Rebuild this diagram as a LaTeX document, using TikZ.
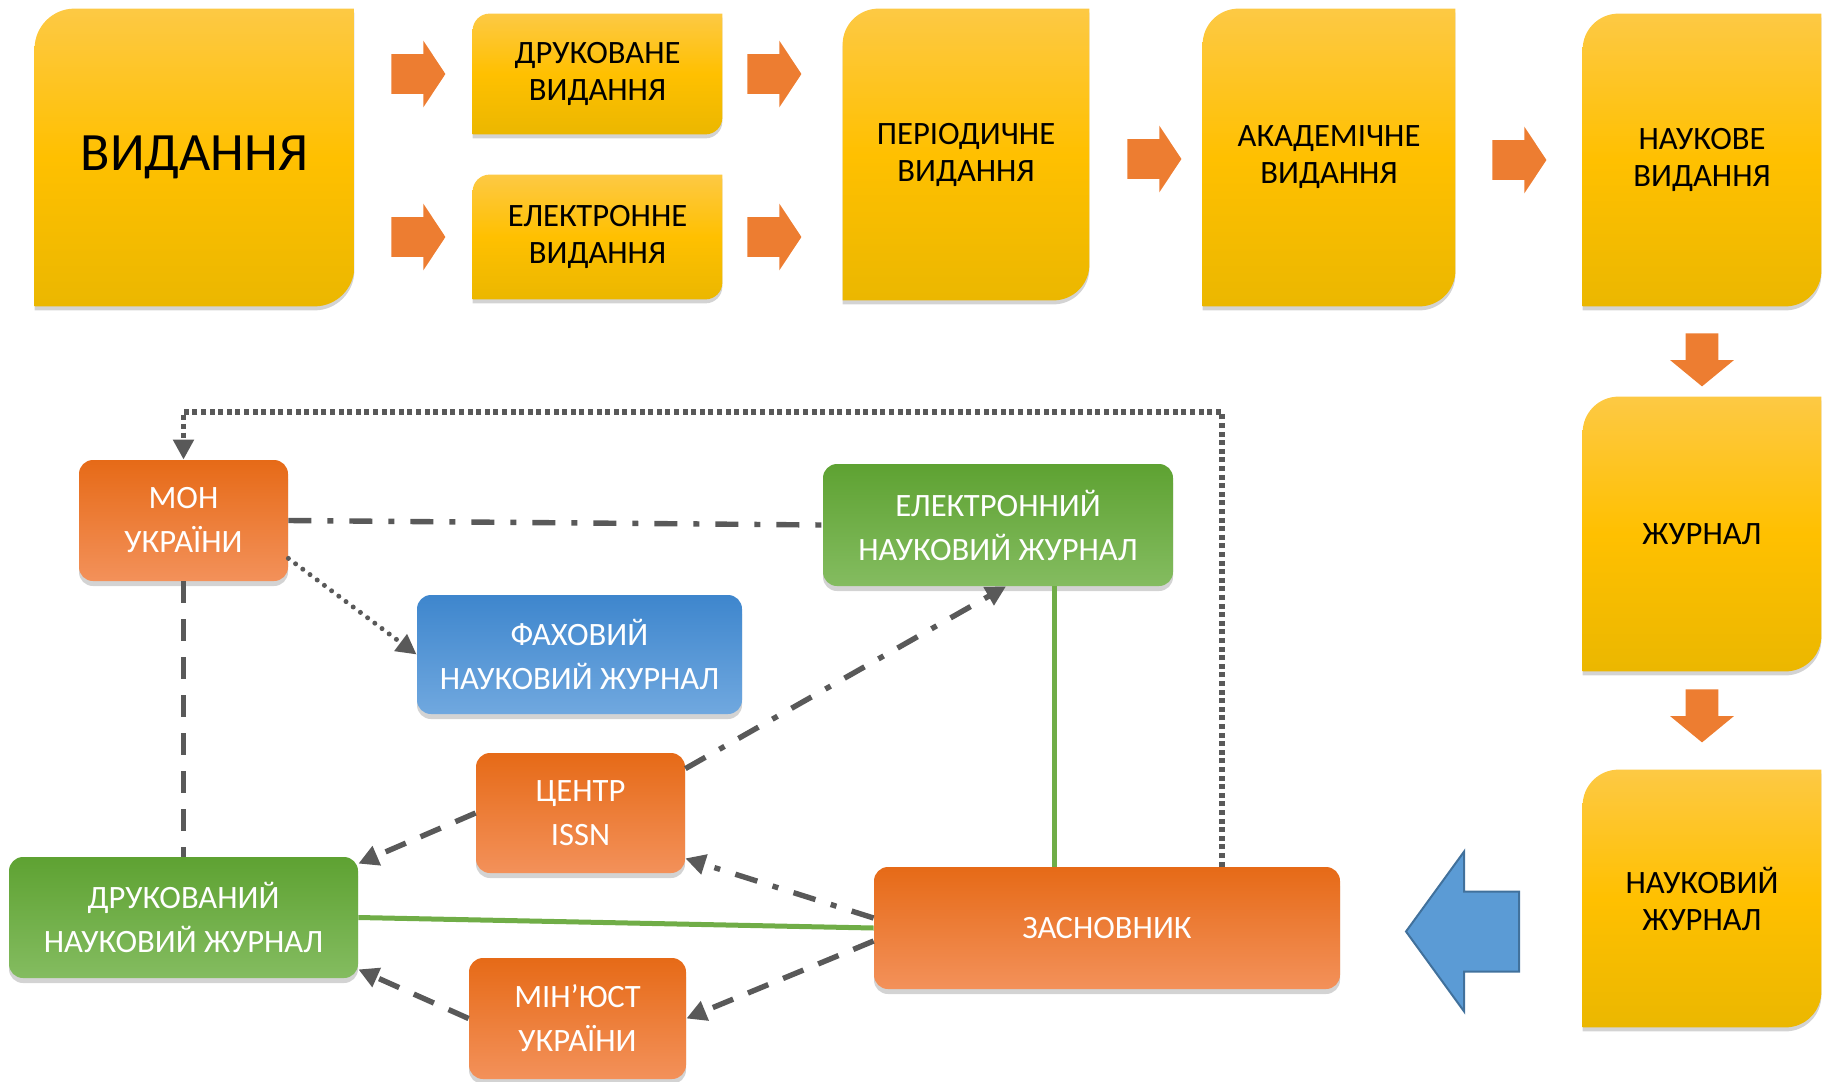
\documentclass[tikz,border=0pt]{standalone}
\usepackage{fontspec}
\setmainfont{Carlito}
\usetikzlibrary{arrows.meta,shapes.arrows,shadows,backgrounds,calc}

\definecolor{yelTop}{HTML}{FDC944}
\definecolor{yelMid}{HTML}{FFC000}
\definecolor{yelBot}{HTML}{EBB700}
\definecolor{arrOr}{HTML}{ED7D31}
\definecolor{orTop}{HTML}{E66A17}
\definecolor{orBot}{HTML}{F3915A}
\definecolor{grTop}{HTML}{5EA232}
\definecolor{grBot}{HTML}{84BC60}
\definecolor{blTop}{HTML}{3E86CD}
\definecolor{blBot}{HTML}{70A8DF}
\definecolor{lineGray}{HTML}{595959}
\definecolor{lineGreen}{HTML}{70AD47}
\definecolor{bigBlue}{HTML}{5B9BD5}
\definecolor{bigBlueEdge}{HTML}{41719C}

\begin{document}
\begin{tikzpicture}[x=0.5pt,y=-0.5pt,
   yellow box/.style={inner sep=0pt,align=center,font=\fontsize{16.3}{18.5}\selectfont},
   yellow shape/.style={top color=yelTop,bottom color=yelBot,middle color=yelMid,
      drop shadow={shadow xshift=0pt,shadow yshift=-2pt,opacity=.35}},
   flow arrow/.style={single arrow,fill=arrOr,anchor=tail,inner xsep=0pt,inner ysep=9.75pt,minimum width=33pt,
      minimum height=27pt,single arrow head extend=6.75pt,single arrow tip angle=113},
   down arrow/.style={flow arrow,shape border rotate=270,inner xsep=8pt,inner ysep=0pt,minimum width=31.5pt,
      minimum height=26.5pt,single arrow head extend=7.75pt,single arrow tip angle=101},
   org box/.style={rounded corners=7pt,top color=orTop,bottom color=orBot,text=white,align=center,
      font=\fontsize{16.3}{22}\selectfont,inner sep=0pt,
      drop shadow={shadow xshift=0pt,shadow yshift=-2.5pt,opacity=.35}},
   green box/.style={org box,top color=grTop,bottom color=grBot},
   blue box/.style={org box,top color=blTop,bottom color=blBot},
   dash line/.style={draw=lineGray,line width=2.7pt,dash pattern=on 11pt off 8pt},
   dash dot line/.style={draw=lineGray,line width=2.7pt,dash pattern=on 11.5pt off 8pt on 3pt off 8pt},
   dot line/.style={draw=lineGray,line width=2.5pt,line cap=round,dash pattern=on 0pt off 4.5pt},
   square dot line/.style={draw=lineGray,line width=2.6pt,dash pattern=on 2.5pt off 1.8pt},
   gray tip/.style={-{Triangle[length=10pt,width=10pt,fill=lineGray]}},
   green line/.style={draw=lineGreen,line width=2.5pt}]

  \useasboundingbox (0,0) rectangle (1830,1081);

  % top row
  \node[yellow box,minimum width=159.5pt,minimum height=148.5pt,font=\fontsize{27}{30}\selectfont] (vyd) at (194.5,157.5) {ВИДАННЯ};
  \node[yellow box,minimum width=124.5pt,minimum height=60pt] (drv) at (597.5,74) {ДРУКОВАНЕ\\ВИДАННЯ};
  \node[yellow box,minimum width=124.5pt,minimum height=62pt] (elv) at (597.5,237) {ЕЛЕКТРОННЕ\\ВИДАННЯ};
  \node[yellow box,minimum width=123pt,minimum height=145.5pt] (per) at (966,154.5) {ПЕРІОДИЧНЕ\\ВИДАННЯ};
  \node[yellow box,minimum width=126pt,minimum height=148.5pt] (akad) at (1329,157.5) {АКАДЕМІЧНЕ\\ВИДАННЯ};
  \node[yellow box,minimum width=119pt,minimum height=146pt] (nauk) at (1702,160) {НАУКОВЕ\\ВИДАННЯ};
  \node[yellow box,minimum width=119pt,minimum height=137pt] (zhur) at (1702,534) {ЖУРНАЛ};
  \node[yellow box,minimum width=119pt,minimum height=128.5pt] (nzh) at (1702,898.5) {НАУКОВИЙ\\ЖУРНАЛ};

  \begin{scope}[on background layer]
    \foreach \n/\r in {vyd/20pt,drv/8.5pt,elv/8.5pt,per/18pt,akad/18pt,nauk/18pt,zhur/18pt,nzh/18pt}
      \path[yellow shape] (\n.west) [rounded corners=\r] -- (\n.north west) [sharp corners] -- (\n.north east)
        [rounded corners=\r] -- (\n.south east) [sharp corners] -- (\n.south west) -- cycle;
  \end{scope}

  \node[flow arrow] (f1) at (391,74) {};
  \node[flow arrow] (f2) at (391,237) {};
  \node[flow arrow] (f3) at (747,74) {};
  \node[flow arrow] (f4) at (747,237) {};
  \node[flow arrow] (f5) at (1127,159) {};
  \node[flow arrow] (f6) at (1492,160) {};
  \node[down arrow] (f7) at (1702,333) {};
  \node[down arrow] (f8) at (1702,689) {};
  \node[single arrow,fill=bigBlue,draw=bigBlueEdge,line width=1pt,anchor=tail,inner xsep=0pt,inner ysep=19.5pt,
        shape border rotate=180,minimum width=79.5pt,minimum height=56.5pt,single arrow head extend=20pt,
        single arrow tip angle=108] (back) at (1520,931.5) {};

  % lower scheme
  \node[org box,minimum width=104.5pt,minimum height=60.5pt] (mon) at (183.5,520.5) {МОН\\УКРАЇНИ};
  \node[green box,minimum width=175pt,minimum height=61pt] (eln) at (998,525) {ЕЛЕКТРОННИЙ\\НАУКОВИЙ ЖУРНАЛ};
  \node[blue box,minimum width=162.5pt,minimum height=59.5pt] (fah) at (579.5,654.5) {ФАХОВИЙ\\НАУКОВИЙ ЖУРНАЛ};
  \node[org box,minimum width=104.5pt,minimum height=60pt] (issn) at (580.5,813) {ЦЕНТР\\ISSN};
  \node[green box,minimum width=174.5pt,minimum height=60.5pt] (drn) at (183.5,917.5) {ДРУКОВАНИЙ\\НАУКОВИЙ ЖУРНАЛ};
  \node[org box,minimum width=108.5pt,minimum height=60.5pt] (min) at (577.5,1018.5) {МІН’ЮСТ\\УКРАЇНИ};
  \node[org box,minimum width=233pt,minimum height=61pt] (zas) at (1107,928) {ЗАСНОВНИК};

  \coordinate (loop) at (1222,412);
  \coordinate (gtop) at ([xshift=28pt]eln.south);

  \draw[square dot line,gray tip] ([xshift=57.5pt]zas.north) -- (loop) -| (mon.north);
  \draw[dash dot line] (mon.east) -- (eln.west);
  \draw[dot line,gray tip] ([yshift=11.5pt]mon.south east) -- (fah.west);
  \draw[dash line] (mon.south) -- (drn.north);
  \draw[dash dot line,gray tip] ([yshift=-8pt]issn.north east) -- ([xshift=4pt]eln.south);
  \draw[dash line,gray tip] (issn.west) -- ([yshift=-3.5pt]drn.north east);
  \draw[dash dot line,gray tip] ([yshift=5pt]zas.west) -- ([yshift=7.5pt]issn.south east);
  \draw[dash line,gray tip] ([yshift=-6.5pt]zas.west) -- (min.east);
  \draw[dash line,gray tip] (min.west) -- ([yshift=4.5pt]drn.south east);
  \draw[green line] (drn.east) -- (zas.west);
  \draw[green line] (gtop) -- (gtop |- zas.north);
\end{tikzpicture}
\end{document}
